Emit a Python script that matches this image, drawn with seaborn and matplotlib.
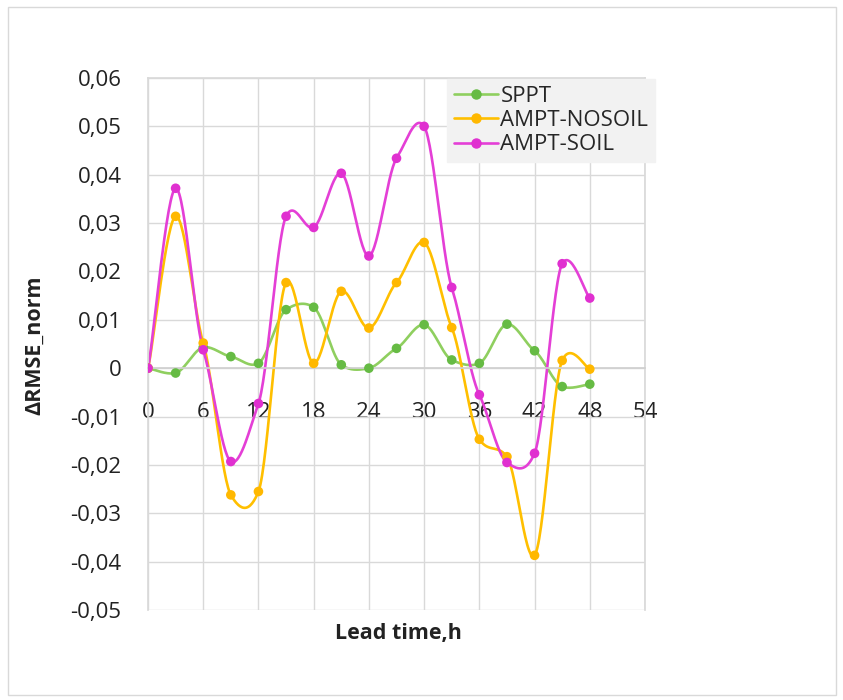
import numpy as np
import pandas as pd
import matplotlib
matplotlib.use("Agg")
import matplotlib.pyplot as plt
from matplotlib.ticker import FuncFormatter, MultipleLocator
from matplotlib.lines import Line2D
from matplotlib.patches import Rectangle
import seaborn as sns

# Values (lead time every 3 h)
lead_time = [0, 3, 6, 9, 12, 15, 18, 21, 24, 27, 30, 33, 36, 39, 42, 45, 48]
sppt = [0, -0.001, 0.0043, 0.0024, 0.001, 0.0121, 0.0126, 0.0007, 0.0,
        0.0041, 0.009, 0.0017, 0.001, 0.0091, 0.0036, -0.0038, -0.0033]
ampt_nosoil = [0, 0.0314, 0.0052, -0.0262, -0.0255, 0.0177, 0.001, 0.0159, 0.0083,
               0.0177, 0.026, 0.0084, -0.0147, -0.0183, -0.0387, 0.0016, -0.0002]
ampt_soil = [0, 0.0372, 0.0038, -0.0193, -0.0073, 0.0314, 0.0291, 0.0403, 0.0232,
             0.0434, 0.050, 0.0167, -0.0055, -0.0195, -0.0176, 0.0216, 0.0145]
series_names = ["SPPT", "AMPT-NOSOIL", "AMPT-SOIL"]
line_colors = ["#8fcf5f", "#ffbf00", "#e43fd6"]
marker_colors = ["#66bb44", "#ffb800", "#e030d0"]

x_ticks = list(range(0, 55, 6))


def smooth(xs, ys, n=30, tension=0.65):
    # Excel-like smoothed line: softened Catmull-Rom segments as cubic Bezier
    xs = np.asarray(xs, float)
    ys = np.asarray(ys, float)
    px, py = [], []
    k = len(xs)
    for i in range(k - 1):
        i0, i3 = max(i - 1, 0), min(i + 2, k - 1)
        m1x, m1y = (xs[i + 1] - xs[i0]) / 2, (ys[i + 1] - ys[i0]) * tension / 2
        m2x, m2y = (xs[i3] - xs[i]) / 2, (ys[i3] - ys[i]) * tension / 2
        c = [(xs[i], ys[i]), (xs[i] + m1x / 3, ys[i] + m1y / 3),
             (xs[i + 1] - m2x / 3, ys[i + 1] - m2y / 3), (xs[i + 1], ys[i + 1])]
        t = np.linspace(0, 1, n, endpoint=(i == k - 2))
        b = [(1 - t) ** 3, 3 * (1 - t) ** 2 * t, 3 * (1 - t) * t ** 2, t ** 3]
        px.append(sum(b[j] * c[j][0] for j in range(4)))
        py.append(sum(b[j] * c[j][1] for j in range(4)))
    return np.concatenate(px), np.concatenate(py)


points = pd.DataFrame({
    "lead": lead_time * 3,
    "value": sppt + ampt_nosoil + ampt_soil,
    "series": np.repeat(series_names, len(lead_time)),
})

curves = []
for name, vals in zip(series_names, [sppt, ampt_nosoil, ampt_soil]):
    cx, cy = smooth(lead_time, vals)
    curves.append(pd.DataFrame({"lead": cx, "value": cy, "series": name}))
curves = pd.concat(curves, ignore_index=True)

sns.set_theme(style="white")
plt.rcParams["font.family"] = ["Open Sans", "DejaVu Sans"]

fig = plt.figure(figsize=(8.43, 7.0), dpi=100)
ax = fig.add_axes([148 / 843, 90 / 700, 497 / 843, 532 / 700])

sns.lineplot(data=curves, x="lead", y="value", hue="series", sort=False,
             estimator=None, palette=dict(zip(series_names, line_colors)),
             linewidth=1.9, legend=False, ax=ax)
sns.scatterplot(data=points, x="lead", y="value", hue="series",
                palette=dict(zip(series_names, marker_colors)), s=48,
                edgecolor="none", legend=False, ax=ax, zorder=5)

ax.set_xlim(0, 54)
ax.set_ylim(-0.05, 0.06)
ax.set_xticks(x_ticks)
ax.yaxis.set_major_locator(MultipleLocator(0.01))


def fmt(v, pos):
    if abs(v) < 1e-9:
        return "0"
    return f"{v:.2f}".replace(".", ",")


ax.yaxis.set_major_formatter(FuncFormatter(fmt))
ax.grid(True, color="#d9d9d9", linewidth=1.0)
ax.set_axisbelow(True)
for s in ["top", "right", "left"]:
    ax.spines[s].set_color("#d9d9d9")
ax.spines["bottom"].set_position(("data", 0))
ax.spines["bottom"].set_color("#d0d0d0")
ax.tick_params(axis="both", length=0, labelsize=16, colors="#222222")
ax.tick_params(axis="x", pad=24)
ax.tick_params(axis="y", pad=19)

ax.set_xlabel("")
ax.set_ylabel("")
fig.text(398 / 843, 1 - 633 / 700, "Lead time,h", ha="center", va="center",
         fontsize=15.5, fontweight="bold", color="#222222")
fig.text(35 / 843, 1 - 345 / 700, "ΔRMSE_norm", ha="center", va="center",
         rotation=90, fontsize=15.5, fontweight="bold", color="#222222")

handles = [Line2D([], [], color=lc, linewidth=1.9, marker="o", markersize=6.5,
                  markerfacecolor=mc, markeredgecolor=mc)
           for lc, mc in zip(line_colors, marker_colors)]
leg = ax.legend(handles, series_names, loc="upper left",
                bbox_to_anchor=(447 / 843, 1 - 79 / 700), bbox_transform=fig.transFigure,
                fontsize=16, frameon=True, fancybox=False, handlelength=2.0,
                handletextpad=0.1, labelspacing=0.15, borderpad=0.3,
                borderaxespad=0)
leg.get_frame().set_facecolor("#f2f2f2")
leg.get_frame().set_edgecolor("#f2f2f2")
leg.get_frame().set_alpha(1)

fig.patches.append(Rectangle((8 / 843, 5 / 700), 828 / 843, 688 / 700,
                             transform=fig.transFigure, fill=False,
                             edgecolor="#d9d9d9", linewidth=1.0))

fig.savefig("out.png", dpi=100)
